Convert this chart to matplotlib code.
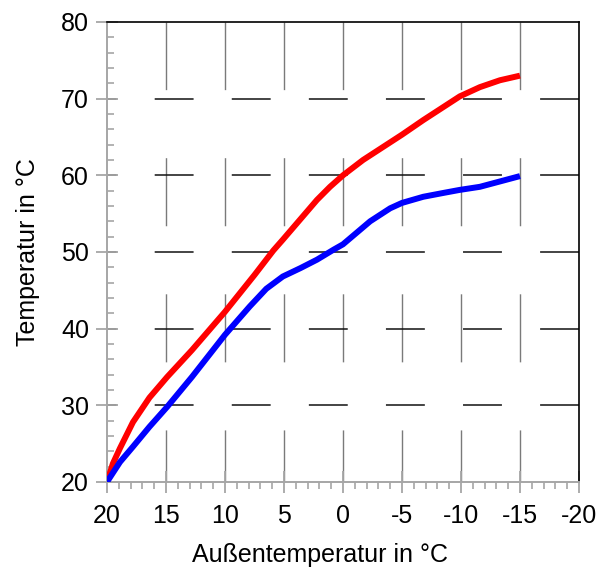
import matplotlib
matplotlib.use("Agg")
import matplotlib.pyplot as plt
from matplotlib.ticker import MultipleLocator

plt.rcParams['font.family'] = ['Liberation Sans', 'DejaVu Sans']
plt.rcParams['lines.scale_dashes'] = False

# outside temperature (deg C) vs flow temperature
rot_x = [20, 19.5, 18.9, 17.8, 16.4, 14.9, 12.8, 10, 7.5, 5.9, 5.1, 2.2, 1.1, 0, -1.7, -3.1,
         -5, -6.8, -8.5, -9.9, -11.6, -13.3, -15]
rot_y = [20, 22.4, 24.4, 27.8, 31.0, 33.7, 37.2, 42.2, 47.0, 50.2, 51.6, 56.8, 58.5, 60.0,
         62.0, 63.4, 65.3, 67.2, 68.9, 70.3, 71.5, 72.4, 73.0]

blau_x = [20, 18.9, 17.8, 16.4, 14.9, 12.8, 10, 7.9, 6.5, 5.1, 3.6, 2.2, 0.8, 0, -2.3,
          -4.0, -5, -6.8, -8.5, -9.9, -11.6, -13.3, -15]
blau_y = [20, 22.6, 24.6, 27.2, 29.8, 33.7, 39.2, 42.9, 45.2, 46.8, 47.9, 49.0, 50.3, 51.0,
          54.0, 55.7, 56.4, 57.2, 57.7, 58.1, 58.5, 59.2, 59.9]

xticks = [20, 15, 10, 5, 0, -5, -10, -15, -20]
xlabels = ['20', '15', '10', '5', '0', '-5', '-10', '-15', '-20']
yticks = [20, 30, 40, 50, 60, 70, 80]

fig = plt.figure(figsize=(5.99, 5.71), dpi=100)
ax = fig.add_axes([0.1786, 0.1559, 0.788, 0.8056])

ax.set_xlim(20, -20)
ax.set_ylim(20, 80)

# grid drawn by hand to get the long dashes
ax.vlines(xticks[1:-1], 20, 80, colors='#7a7a7a', linewidth=1.0,
          linestyles=[(11.5, (49, 49))], zorder=1)
ax.hlines(yticks[1:-1], -20, 20, colors='#111111', linewidth=1.1,
          linestyles=[(0, (28, 27.5))], zorder=1)

ax.plot(rot_x, rot_y, color='#ff0000', lw=4.3, solid_joinstyle='round',
        solid_capstyle='butt', zorder=3)
ax.plot(blau_x, blau_y, color='#0000ff', lw=4.3, solid_joinstyle='round',
        solid_capstyle='butt', zorder=3)

ax.set_xticks(xticks)
ax.set_xticklabels(xlabels)
ax.set_yticks(yticks)
ax.xaxis.set_minor_locator(MultipleLocator(1))
ax.yaxis.set_minor_locator(MultipleLocator(2))

ax.tick_params(axis='x', which='major', direction='inout', length=16, width=1.3,
               color='#a6a6a6', labelsize=18, pad=8)
ax.tick_params(axis='x', which='minor', direction='out', length=5, width=1.2,
               color='#a6a6a6')
ax.tick_params(axis='y', which='major', direction='inout', length=16, width=1.3,
               color='#a6a6a6', labelsize=18, pad=5)
ax.tick_params(axis='y', which='minor', direction='in', length=5, width=1.2,
               color='#a6a6a6')

for s in ['left', 'bottom']:
    ax.spines[s].set_color('#a6a6a6')
    ax.spines[s].set_linewidth(1.4)
for s in ['top', 'right']:
    ax.spines[s].set_color('black')
    ax.spines[s].set_linewidth(1.2)

ax.set_xlabel('Außentemperatur in °C', fontsize=18)
ax.xaxis.set_label_coords(0.451, -0.133)
ax.set_ylabel('Temperatur in °C', fontsize=18, labelpad=15)

# title sits mostly above the visible area
fig.text(0.535, 1.008, 'Heizung', ha='right', va='baseline', fontsize=18)

fig.savefig('out.png', dpi=100)
